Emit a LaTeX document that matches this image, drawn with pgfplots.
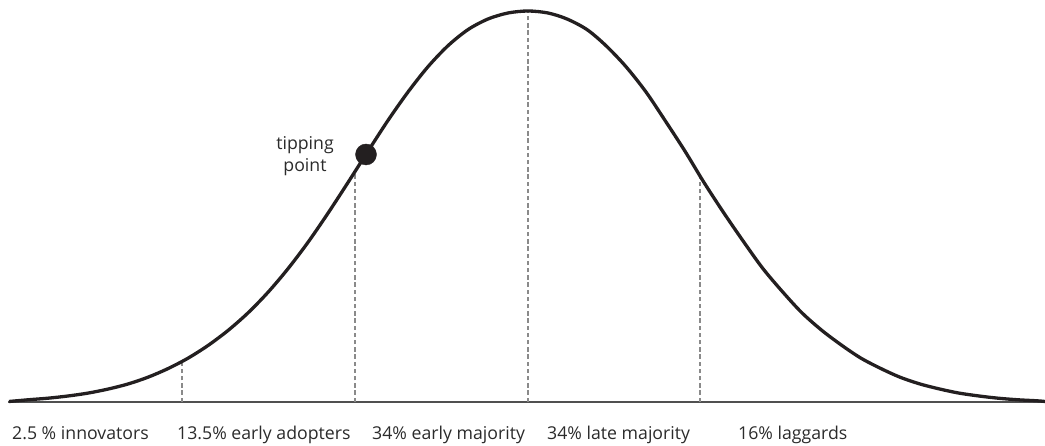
\documentclass[border=0pt]{standalone}
\usepackage{pgfplots}
\pgfplotsset{compat=1.18}
\usepackage{fontspec}
\setmainfont{Open Sans}
\definecolor{curve}{HTML}{231F20}
\definecolor{dashc}{HTML}{8A8A8A}
\definecolor{basec}{HTML}{505050}
\definecolor{txt}{HTML}{2B2B2B}
\tikzset{lbl/.style={inner sep=0pt, text=txt, font=\fontsize{17.7}{21}\selectfont}}
\begin{document}
\begin{tikzpicture}
\begin{axis}[
  width=1045pt, height=402pt, scale only axis,
  xmin=0, xmax=1045, ymin=0, ymax=402,
  hide axis, clip=false,
]
\addplot[basec, line width=1.6pt] coordinates {(8,0)(1045,0)};
\addplot[dashc, line width=2.5pt, dash pattern=on 4.3pt off 2.9pt] coordinates {(182,0)(182,40.5)};
\addplot[dashc, line width=2.5pt, dash pattern=on 4.3pt off 2.9pt] coordinates {(355,0)(355,230)};
\addplot[dashc, line width=2.5pt, dash pattern=on 4.3pt off 2.9pt] coordinates {(528,0)(528,390)};
\addplot[dashc, line width=2.5pt, dash pattern=on 4.3pt off 2.9pt] coordinates {(700,0)(700,226)};
\addplot[curve, line width=3.3pt, smooth] coordinates {
(9,0.5) (28,2.2) (48,3.8) (68,6) (88,8.9) (108,12.9) (128,18) (148,24.8) (168,33.4)
(188,43.8) (208,56.5) (228,71.5) (248,89.1) (268,109.7) (288,133.3) (308,159.7)
(328,188.8) (348,219.5) (368,250.8) (388,281.6) (408,310) (428,335.3) (448,356.3)
(468,372.4) (488,383) (508,389) (528,391)
(548,389) (567,383) (587,372.4) (606,356.3) (626,335.3) (646,310) (665,281.6)
(685,250.8) (704,219.5) (724,188.8) (744,159.7) (763,133.3) (783,109.7) (802,89.1)
(822,71.5) (842,56.5) (861,43.8) (881,33.4) (900,24.8) (920,18) (940,12.9)
(959,8.9) (979,6) (998,3.8) (1018,2.2) (1037,1.2) (1045,0.5)
};
\addplot[only marks, mark=*, mark size=10.5pt, mark options={draw=curve, fill=curve}] coordinates {(366,247.5)};
\node[lbl, anchor=base] at (axis cs:305,252) {tipping};
\node[lbl, anchor=base] at (axis cs:305,230) {point};
\node[lbl, anchor=base west] at (axis cs:12,-38) {2.5 \% innovators};
\node[lbl, anchor=base west] at (axis cs:177,-38) {13.5\% early adopters};
\node[lbl, anchor=base west] at (axis cs:372,-38) {34\% early majority};
\node[lbl, anchor=base west] at (axis cs:547,-38) {34\% late majority};
\node[lbl, anchor=base west] at (axis cs:738,-38) {16\% laggards};
\coordinate (bl) at (axis cs:0,-44);
\coordinate (tr) at (axis cs:1045,402);
\end{axis}
\pgfresetboundingbox
\path[use as bounding box] (bl) rectangle (tr);
\end{tikzpicture}
\end{document}
